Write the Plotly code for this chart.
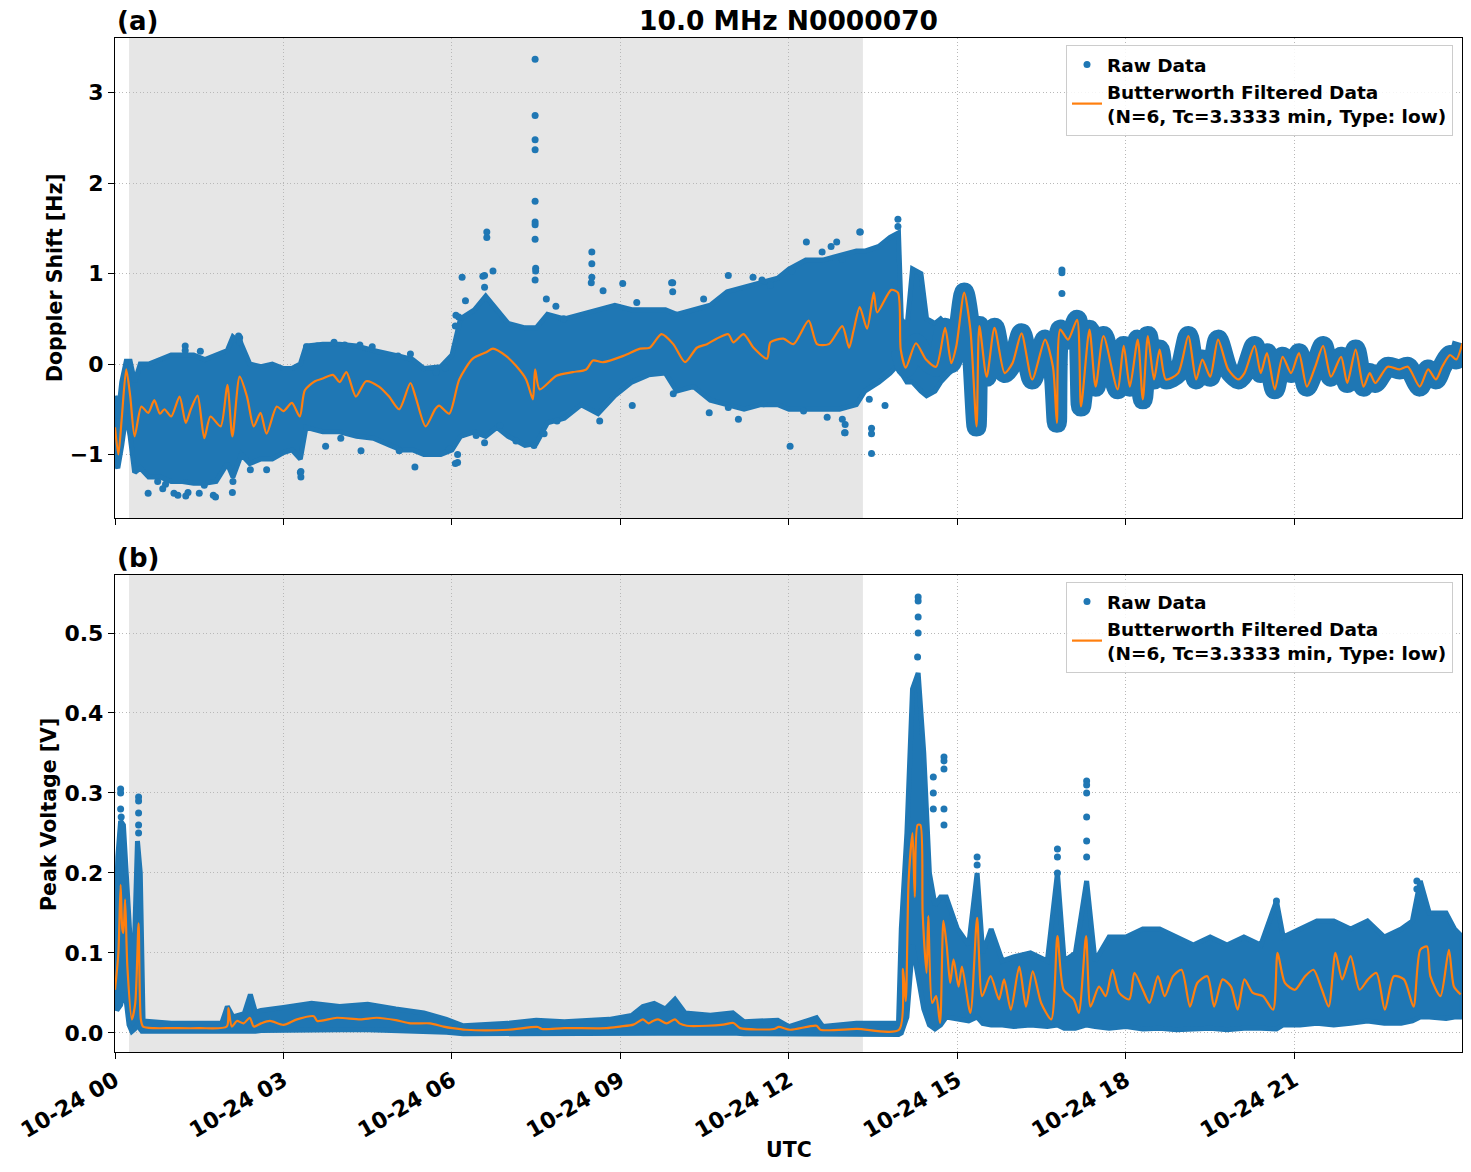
import numpy as np
import pandas as pd
import plotly.graph_objects as go

BASE = pd.Timestamp("2023-10-24 00:00")

# ---------------- Panel (a): Doppler shift ----------------
ds_filt_t = [0.0, 0.06, 0.12, 0.2, 0.27, 0.35, 0.47, 0.59, 0.7, 0.8, 0.88, 1.0, 1.15, 1.26, 1.35, 1.47,
             1.59, 1.7, 1.88, 2.0, 2.09, 2.22, 2.35, 2.47, 2.59, 2.7, 2.88, 3.0, 3.15, 3.29, 3.38, 3.56,
             3.7, 3.88, 4.0, 4.12, 4.29, 4.47, 4.7, 4.88, 5.06, 5.26, 5.35, 5.53, 5.7, 5.77, 5.95, 6.13,
             6.37, 6.61, 6.73, 6.96, 7.14, 7.32, 7.44, 7.48, 7.56, 7.86, 8.15, 8.39, 8.51, 8.69, 9.05,
             9.35, 9.52, 9.73, 9.94, 10.15, 10.36, 10.54, 10.71, 10.92, 11.01, 11.19, 11.37, 11.61,
             11.67, 11.9, 12.08, 12.35, 12.5, 12.71, 12.95, 13.07, 13.15, 13.26, 13.39, 13.51, 13.57,
             13.82, 13.94, 13.99, 14.08, 14.26, 14.44, 14.62, 14.78, 14.89, 14.98, 15.12, 15.23, 15.34,
             15.39, 15.52, 15.66, 15.84, 15.98, 16.14, 16.33, 16.56, 16.7, 16.77, 16.83, 16.97, 17.13,
             17.2, 17.35, 17.46, 17.6, 17.85, 17.96, 18.07, 18.21, 18.3, 18.39, 18.5, 18.6, 18.71,
             18.93, 19.11, 19.25, 19.36, 19.5, 19.64, 19.82, 20.0, 20.11, 20.29, 20.4, 20.51, 20.65,
             20.79, 20.94, 21.08, 21.22, 21.37, 21.51, 21.65, 21.83, 21.94, 22.09, 22.23, 22.34, 22.44,
             22.66, 22.87, 23.02, 23.23, 23.38, 23.52, 23.63, 23.77, 23.88, 23.99]
ds_filt_v = [-0.70, -1.0, -0.6, -0.06, -0.35, -0.8, -0.47, -0.54, -0.4, -0.55, -0.5, -0.58, -0.36, -0.65,
             -0.5, -0.35, -0.82, -0.58, -0.69, -0.23, -0.8, -0.14, -0.36, -0.69, -0.54, -0.77, -0.47,
             -0.52, -0.43, -0.58, -0.29, -0.19, -0.16, -0.12, -0.2, -0.09, -0.36, -0.19, -0.25, -0.36,
             -0.5, -0.21, -0.36, -0.69, -0.5, -0.46, -0.55, -0.17, 0.06, 0.13, 0.17, 0.09, -0.02, -0.17,
             -0.39, -0.06, -0.28, -0.13, -0.09, -0.06, 0.04, 0.02, 0.09, 0.17, 0.18, 0.33, 0.22, 0.02,
             0.18, 0.22, 0.28, 0.33, 0.24, 0.33, 0.18, 0.06, 0.24, 0.28, 0.22, 0.48, 0.22, 0.22, 0.42,
             0.18, 0.37, 0.63, 0.39, 0.79, 0.57, 0.82, 0.79, 0.16, -0.04, 0.23, 0.05, -0.03, 0.4, 0.01,
             0.2, 0.79, 0.38, -0.69, 0.42, -0.14, 0.4, -0.1, 0.01, 0.34, -0.17, 0.27, -0.03, -0.65,
             0.38, 0.27, 0.49, -0.47, 0.38, -0.25, 0.31, -0.28, 0.2, -0.25, 0.27, -0.39, 0.31, -0.17,
             0.16, -0.17, -0.1, 0.31, -0.17, 0.05, -0.14, 0.27, -0.06, -0.17, -0.1, 0.2, -0.1, 0.12,
             -0.28, 0.08, -0.1, 0.12, -0.25, -0.03, 0.2, -0.14, 0.08, -0.21, 0.16, -0.25, -0.1, -0.21,
             -0.03, -0.06, -0.03, -0.25, -0.06, -0.17, -0.03, 0.1, 0.05, 0.23]

# envelope of the dense raw scatter
ds_raw_t = [0.0, 0.05, 0.12, 0.2, 0.27, 0.35, 0.45, 0.6, 0.8, 1.0, 1.2, 1.4, 1.6, 1.8, 2.0, 2.1, 2.25,
            2.4, 2.6, 2.8, 3.0, 3.15, 3.3, 3.4, 3.7, 4.0, 4.3, 4.6, 4.9, 5.1, 5.3, 5.5, 5.8, 6.0, 6.15,
            6.4, 6.6, 6.8, 7.0, 7.3, 7.5, 7.7, 8.0, 8.3, 8.6, 8.9, 9.2, 9.5, 9.8, 10.0, 10.3, 10.6,
            10.9, 11.2, 11.5, 11.8, 12.0, 12.3, 12.6, 12.9, 13.2, 13.35, 13.6, 13.8, 13.95, 14.0, 14.1,
            14.2, 14.35, 14.45, 14.6, 14.7, 14.85, 14.95]
ds_raw_lo = [-1.1, -1.15, -0.9, -0.55, -0.8, -1.2, -1.15, -1.25, -1.25, -1.3, -1.3, -1.32, -1.32, -1.3,
             -1.1, -1.25, -1.0, -1.1, -1.05, -1.05, -0.98, -0.95, -1.05, -0.7, -0.75, -0.75, -0.8,
             -0.82, -0.9, -0.95, -0.95, -1.0, -1.0, -0.95, -0.8, -0.75, -0.8, -0.7, -0.8, -0.9, -0.88,
             -0.65, -0.6, -0.45, -0.55, -0.35, -0.2, -0.12, -0.1, -0.3, -0.25, -0.4, -0.45, -0.5, -0.45,
             -0.45, -0.5, -0.5, -0.5, -0.5, -0.45, -0.3, -0.2, -0.1, 0.0, -0.1, -0.2, -0.2, -0.3,
             -0.35, -0.3, -0.2, -0.1, -0.05]
ds_raw_hi = [-0.35, -0.6, -0.2, 0.03, 0.03, -0.2, 0.0, 0.0, 0.05, 0.1, 0.1, 0.1, 0.05, 0.1, 0.15, 0.3,
             0.22, 0.0, -0.03, 0.0, -0.05, -0.05, 0.0, 0.2, 0.22, 0.22, 0.2, 0.15, 0.1, 0.08, 0.05,
             -0.05, -0.03, 0.1, 0.5, 0.6, 0.75, 0.6, 0.45, 0.4, 0.4, 0.55, 0.5, 0.55, 0.6, 0.65, 0.6,
             0.6, 0.6, 0.55, 0.6, 0.65, 0.8, 0.85, 0.9, 0.95, 1.05, 1.15, 1.15, 1.2, 1.25, 1.25, 1.3,
             1.4, 1.45, 0.5, 0.4, 1.05, 1.0, 0.5, 0.45, 0.5, 0.4, 0.25]

# isolated raw points outside the dense band
ds_out_t = [7.48, 7.48, 7.48, 7.48, 7.48, 7.48, 7.48, 7.48, 7.49, 7.49, 7.48, 6.62, 6.62, 6.55, 8.49,
            8.49, 8.49, 8.48, 9.93, 9.93, 12.02, 13.47, 13.47, 13.47, 13.43, 6.1, 6.1, 16.86, 16.86,
            16.86, 1.3, 1.5, 1.75, 1.05, 2.1, 3.3, 0.9, 13.94, 13.94, 13.26, 12.75, 13.0, 13.0,
            12.95, 2.2,
            0.59, 1.12, 1.26, 1.79, 2.09, 0.85, 1.59, 0.76, 2.41, 2.7, 3.31, 3.31, 3.75, 4.02, 4.38,
            5.06, 5.34, 6.06,
            1.25, 1.25, 1.52, 2.22, 2.22, 3.41, 3.6, 3.9, 4.09, 4.36, 4.58, 5.04, 5.26, 5.72, 5.88,
            6.12, 6.06,
            6.07, 6.24, 6.18, 6.58, 6.73, 6.58, 7.68, 7.85, 7.99, 8.69, 9.04, 9.29, 9.91, 10.48,
            10.92, 11.36, 11.52, 11.67, 12.05, 12.31, 12.59, 12.85, 13.27, 12.95,
            5.95, 6.43, 6.58, 6.85, 7.14, 7.46, 7.64, 7.87, 8.63, 9.21, 9.94, 10.58, 10.92, 11.1,
            11.55, 12.26, 12.68, 12.99, 13.71]
ds_out_v = [3.37, 2.75, 2.48, 2.37, 1.80, 1.57, 1.54, 1.38, 1.06, 1.03, 0.93, 1.46, 1.40, 0.97, 1.24,
            1.11, 0.96, 0.9, 0.9, 0.8, -0.91, -0.99, -0.77, -0.71, -0.39, -1.09, -1.0, 1.04, 1.01,
            0.78, -1.42, -1.43, -1.45, -1.43, -1.3, -1.2, -1.33, 1.6, 1.52, 1.46, 1.3, -0.67, -0.76,
            -0.61, 0.31,
            -1.43, -1.45, -1.46, -1.47, -1.42, -1.38, -1.34, -1.3, -1.17, -1.17, -1.25, -1.19, -0.91,
            -0.82, -0.96, -0.96, -1.14, -1.1,
            0.2, 0.15, 0.14, 0.29, 0.24, 0.19, 0.2, 0.24, 0.21, 0.21, 0.19, 0.09, 0.11, -0.09, -0.04,
            0.52, 0.42,
            0.54, 0.70, 0.96, 0.98, 1.03, 0.85, 0.72, 0.64, 0.5, 0.81, 0.89, 0.68, 0.9, 0.72, 0.98,
            0.96, 0.93, 0.87, 1.03, 1.35, 1.24, 1.35, 1.46, 1.16,
            -0.94, -0.79, -0.87, -0.68, -0.85, -0.9, -0.77, -0.63, -0.63, -0.46, -0.33, -0.54, -0.48,
            -0.61, -0.44, -0.52, -0.59, -0.76, -0.46]

# ---------------- Panel (b): Peak voltage ----------------
pv_filt_t = [0.0, 0.06, 0.1, 0.13, 0.15, 0.18, 0.22, 0.3, 0.36, 0.42, 0.46, 0.5, 0.7, 1.0, 1.5, 1.99,
             2.02, 2.08, 2.17, 2.29, 2.4, 2.47, 2.6, 2.76, 3.0, 3.24, 3.54, 3.6, 3.95, 4.37, 4.66, 5.0,
             5.26, 5.61, 5.85, 6.01, 6.25, 7.0, 7.53, 7.6, 8.0, 8.75, 8.99, 9.23, 9.4, 9.5, 9.58, 9.67,
             9.82, 9.97, 10.05, 10.18, 10.54, 10.83, 11.01, 11.13, 11.73, 11.82, 12.02, 12.49, 12.56,
             13.21, 13.96, 14.03, 14.08, 14.13, 14.2, 14.24, 14.29, 14.34, 14.38, 14.45, 14.48, 14.55,
             14.62, 14.69, 14.75, 14.81, 14.87, 14.93, 15.02, 15.08, 15.23, 15.35, 15.44, 15.59, 15.74,
             15.83, 15.95, 16.1, 16.22, 16.34, 16.49, 16.67, 16.78, 16.89, 17.07, 17.16, 17.29, 17.37,
             17.52, 17.64, 17.76, 17.88, 18.06, 18.15, 18.3, 18.42, 18.57, 18.69, 18.84, 18.99, 19.14,
             19.27, 19.45, 19.57, 19.72, 19.87, 19.99, 20.11, 20.26, 20.44, 20.62, 20.7, 20.83, 21.01,
             21.19, 21.34, 21.49, 21.61, 21.73, 21.85, 22.0, 22.16, 22.31, 22.46, 22.61, 22.77, 22.95,
             23.12, 23.24, 23.36, 23.42, 23.6, 23.75, 23.84, 23.96]
pv_filt_v = [0.054, 0.1, 0.185, 0.13, 0.125, 0.167, 0.083, 0.017, 0.037, 0.137, 0.017, 0.008, 0.006,
             0.006, 0.006, 0.008, 0.031, 0.008, 0.015, 0.012, 0.019, 0.008, 0.012, 0.015, 0.010, 0.017,
             0.021, 0.015, 0.019, 0.017, 0.019, 0.016, 0.012, 0.012, 0.008, 0.006, 0.004, 0.004,
             0.0075, 0.005, 0.006, 0.006, 0.008, 0.0104, 0.017, 0.012, 0.015, 0.017, 0.012, 0.017,
             0.012, 0.009, 0.009, 0.0104, 0.0125, 0.006, 0.005, 0.0075, 0.004, 0.009, 0.004, 0.005,
             0.004, 0.08, 0.04, 0.19, 0.25, 0.17, 0.26, 0.26, 0.15, 0.075, 0.146, 0.0375, 0.046,
             0.0125, 0.14, 0.108, 0.0625, 0.092, 0.058, 0.083, 0.025, 0.144, 0.046, 0.071, 0.042,
             0.067, 0.029, 0.083, 0.033, 0.077, 0.0375, 0.017, 0.121, 0.054, 0.042, 0.025, 0.121,
             0.033, 0.058, 0.046, 0.079, 0.05, 0.042, 0.075, 0.054, 0.0375, 0.071, 0.046, 0.071,
             0.079, 0.033, 0.0625, 0.071, 0.033, 0.067, 0.058, 0.029, 0.067, 0.05, 0.046, 0.029, 0.1,
             0.0625, 0.054, 0.071, 0.079, 0.054, 0.033, 0.1, 0.067, 0.096, 0.054, 0.067, 0.075, 0.029,
             0.071, 0.067, 0.033, 0.104, 0.108, 0.071, 0.046, 0.104, 0.058, 0.048]

pv_raw_t = [0.0, 0.05, 0.1, 0.15, 0.2, 0.25, 0.3, 0.35, 0.4, 0.45, 0.48, 0.5, 1.0, 1.9, 2.0, 2.1, 2.3,
            2.41, 2.5, 2.6, 3.0, 3.5, 4.0, 4.5, 5.0, 5.5, 5.9, 6.2, 7.0, 7.5, 8.0, 8.8, 9.2, 9.4, 9.6,
            9.8, 9.97, 10.15, 10.6, 11.0, 11.2, 11.8, 12.0, 12.49, 12.6, 13.2, 13.95, 14.0, 14.1, 14.2,
            14.3, 14.4, 14.5, 14.6, 14.7, 14.8, 14.9, 15.0, 15.2, 15.35, 15.45, 15.6, 15.8, 16.0, 16.3,
            16.6, 16.78, 16.9, 17.1, 17.3, 17.45, 17.7, 18.0, 18.3, 18.6, 18.9, 19.2, 19.5, 19.8,
            20.1, 20.4, 20.68, 20.8, 21.1, 21.4, 21.7, 22.0, 22.3, 22.6, 22.9, 23.1, 23.24, 23.4,
            23.7, 23.85, 23.99]
pv_raw_lo = [0.031, 0.03, 0.035, 0.05, 0.04, 0.01, 0.002, 0.005, 0.01, 0.005, 0.002, 0.001, 0.001,
             0.001, 0.001, 0.002, 0.002, 0.002, 0.002, 0.003, 0.004, 0.004, 0.004, 0.004, 0.003, 0.002,
             0.001, -0.001, -0.001, -0.001, -0.001, -0.001, -0.001, 0.0, 0.0, 0.0, 0.0, 0.0, 0.0, 0.0,
             -0.001, -0.001, -0.002, -0.002, -0.002, -0.002, -0.002, 0.0, 0.02, 0.11, 0.07, 0.03,
             0.01, 0.005, 0.01, 0.02, 0.02, 0.018, 0.015, 0.02, 0.012, 0.01, 0.01, 0.008, 0.01, 0.008,
             0.01, 0.006, 0.006, 0.01, 0.008, 0.006, 0.008, 0.005, 0.006, 0.004, 0.005, 0.006, 0.004,
             0.006, 0.006, 0.005, 0.01, 0.01, 0.012, 0.01, 0.012, 0.015, 0.012, 0.012, 0.015, 0.02,
             0.02, 0.018, 0.02, 0.02]
pv_raw_hi = [0.10, 0.22, 0.265, 0.26, 0.2, 0.15, 0.08, 0.12, 0.24, 0.2, 0.05, 0.015, 0.012, 0.012,
             0.033, 0.02, 0.024, 0.048, 0.026, 0.028, 0.032, 0.037, 0.033, 0.036, 0.03, 0.025, 0.017,
             0.009, 0.012, 0.016, 0.014, 0.017, 0.022, 0.033, 0.037, 0.03, 0.042, 0.025, 0.022, 0.025,
             0.014, 0.016, 0.008, 0.019, 0.008, 0.012, 0.012, 0.13, 0.25, 0.43, 0.45, 0.35, 0.2, 0.16,
             0.17, 0.17, 0.15, 0.13, 0.11, 0.2, 0.1, 0.13, 0.09, 0.095, 0.1, 0.09, 0.2, 0.09, 0.1,
             0.19, 0.09, 0.12, 0.12, 0.13, 0.13, 0.12, 0.11, 0.12, 0.11, 0.12, 0.11, 0.165, 0.12, 0.13,
             0.14, 0.14, 0.13, 0.14, 0.12, 0.13, 0.14, 0.19, 0.15, 0.15, 0.13, 0.12]

pv_out_t = [0.1, 0.1, 0.1, 0.11, 0.42, 0.42, 0.42, 0.42, 0.42, 14.3, 14.3, 14.3, 14.3, 14.29, 14.57,
            14.57, 14.57, 14.76, 14.76, 14.76, 14.76, 14.76, 15.35, 15.35, 16.78, 16.78, 16.78, 17.3,
            17.3, 17.3, 17.3, 17.3, 17.3, 23.18, 23.18, 20.68]
pv_out_v = [0.305, 0.3, 0.28, 0.27, 0.295, 0.29, 0.275, 0.26, 0.25, 0.545, 0.54, 0.52, 0.5, 0.47,
            0.32, 0.3, 0.28, 0.345, 0.34, 0.33, 0.28, 0.26, 0.22, 0.21, 0.23, 0.22, 0.2, 0.315, 0.31,
            0.3, 0.27, 0.24, 0.22, 0.19, 0.18, 0.165]

SHADE_START = "2023-10-24 00:15"
SHADE_END = "2023-10-24 13:19"
X_RANGE = ["2023-10-24 00:00", "2023-10-24 23:59"]

TITLE = "10.0 MHz N0000070"
RAW_NAME = "Raw Data"
FILT_NAME = "Butterworth Filtered Data<br>(N=6, Tc=3.3333 min, Type: low)"

BLUE = "#1f77b4"
ORANGE = "#ff7f0e"
FONT = "DejaVu Sans"


def to_dt(hours):
    return BASE + pd.to_timedelta(np.asarray(hours, dtype=float), unit="h")


fig = go.Figure()


def add_panel(xa, ya, leg, raw_t, raw_lo, raw_hi, out_t, out_v, f_t, f_v, thick_from=None):
    poly_x = list(to_dt(raw_t)) + list(to_dt(raw_t[::-1]))
    poly_y = list(raw_hi) + list(raw_lo[::-1])
    fig.add_trace(go.Scatter(x=poly_x, y=poly_y, mode="lines", fill="toself", fillcolor=BLUE,
                             line=dict(color=BLUE, width=5), showlegend=False, hoverinfo="skip",
                             xaxis=xa, yaxis=ya))
    if thick_from is not None:
        tt = [t for t in f_t if t >= thick_from]
        vv = [v for t, v in zip(f_t, f_v) if t >= thick_from]
        fig.add_trace(go.Scatter(x=to_dt(tt), y=vv, mode="lines",
                                 line=dict(color=BLUE, width=20, shape="spline", smoothing=0.7),
                                 showlegend=False, hoverinfo="skip", xaxis=xa, yaxis=ya))
    fig.add_trace(go.Scatter(x=to_dt(out_t), y=out_v, mode="markers", name=RAW_NAME,
                             marker=dict(color=BLUE, size=7), legend=leg, xaxis=xa, yaxis=ya))
    fig.add_trace(go.Scatter(x=to_dt(f_t), y=f_v, mode="lines", name=FILT_NAME,
                             line=dict(color=ORANGE, width=2.2, shape="spline", smoothing=0.7),
                             legend=leg, xaxis=xa, yaxis=ya))


add_panel("x", "y", "legend", ds_raw_t, ds_raw_lo, ds_raw_hi, ds_out_t, ds_out_v,
          ds_filt_t, ds_filt_v, thick_from=13.99)
add_panel("x2", "y2", "legend2", pv_raw_t, pv_raw_lo, pv_raw_hi, pv_out_t, pv_out_v,
          pv_filt_t, pv_filt_v)

W, H = 1471, 1172
X0, X1 = 115 / W, 1462 / W
YA = [(H - 518) / H, (H - 38) / H]
YB = [(H - 1052) / H, (H - 575) / H]

tickfont = dict(family=FONT, size=22, color="black", weight="bold")
GRID = dict(showgrid=True, gridcolor="#b8b8b8", griddash="1px,2.5px", gridwidth=1, zeroline=False)
common_x = dict(type="date", range=X_RANGE, domain=[X0, X1], tick0="2023-10-24 00:00",
                dtick=3 * 3600 * 1000, showline=True, linecolor="black", linewidth=1.3, mirror=True,
                ticks="outside", ticklen=6, tickwidth=1.3, tickcolor="black", automargin=False,
                **GRID)
common_y = dict(showline=True, linecolor="black", linewidth=1.3, mirror=True, automargin=False,
                ticks="outside", ticklen=6, tickwidth=1.3, tickcolor="black", tickfont=tickfont,
                **GRID)

legend_common = dict(xanchor="right", yanchor="top", x=1453 / W,
                     bgcolor="rgba(255,255,255,0.85)", bordercolor="#cccccc", borderwidth=1,
                     font=dict(family=FONT, size=18.5, color="black", weight="bold"),
                     tracegroupgap=0)

fig.update_layout(
    width=W, height=H, margin=dict(l=0, r=0, t=0, b=0, autoexpand=False),
    paper_bgcolor="white", plot_bgcolor="white",
    font=dict(family=FONT, color="black", weight="bold"),
    xaxis=dict(common_x, anchor="y", showticklabels=False),
    xaxis2=dict(common_x, anchor="y2", matches="x", tickformat="%m-%d %H", tickangle=-30,
                tickfont=tickfont),
    yaxis=dict(common_y, domain=YA, range=[-1.703, 3.606], dtick=1, anchor="x"),
    yaxis2=dict(common_y, domain=YB, range=[-0.0238, 0.5725], dtick=0.1, tickformat=".1f",
                anchor="x2"),
    legend=dict(legend_common, y=(H - 45) / H),
    legend2=dict(legend_common, y=(H - 582) / H),
    shapes=[
        dict(type="rect", xref="x", yref="y domain", x0=SHADE_START, x1=SHADE_END, y0=0, y1=1,
             fillcolor="#e6e6e6", line=dict(width=0), layer="below"),
        dict(type="rect", xref="x2", yref="y2 domain", x0=SHADE_START, x1=SHADE_END, y0=0, y1=1,
             fillcolor="#e6e6e6", line=dict(width=0), layer="below"),
    ],
    annotations=[
        dict(text=TITLE, x=(X0 + X1) / 2, y=(H - 21) / H, xref="paper", yref="paper",
             showarrow=False, font=dict(family=FONT, size=26.5, color="black", weight="bold"),
             xanchor="center", yanchor="middle"),
        dict(text="(a)", x=X0, y=(H - 21) / H, xref="paper", yref="paper", showarrow=False,
             font=dict(family=FONT, size=26, color="black", weight="bold"),
             xanchor="left", yanchor="middle"),
        dict(text="(b)", x=X0, y=(H - 558) / H, xref="paper", yref="paper", showarrow=False,
             font=dict(family=FONT, size=26, color="black", weight="bold"),
             xanchor="left", yanchor="middle"),
        dict(text="Doppler Shift [Hz]", x=55 / W, y=(H - 278) / H, xref="paper", yref="paper",
             showarrow=False, textangle=-90,
             font=dict(family=FONT, size=20.5, color="black", weight="bold"),
             xanchor="center", yanchor="middle"),
        dict(text="Peak Voltage [V]", x=49 / W, y=(H - 814) / H, xref="paper", yref="paper",
             showarrow=False, textangle=-90,
             font=dict(family=FONT, size=20.5, color="black", weight="bold"),
             xanchor="center", yanchor="middle"),
        dict(text="UTC", x=(X0 + X1) / 2, y=(H - 1150) / H, xref="paper", yref="paper",
             showarrow=False, font=dict(family=FONT, size=20.5, color="black", weight="bold"),
             xanchor="center", yanchor="middle"),
    ],
)

fig.write_html("out.html")
